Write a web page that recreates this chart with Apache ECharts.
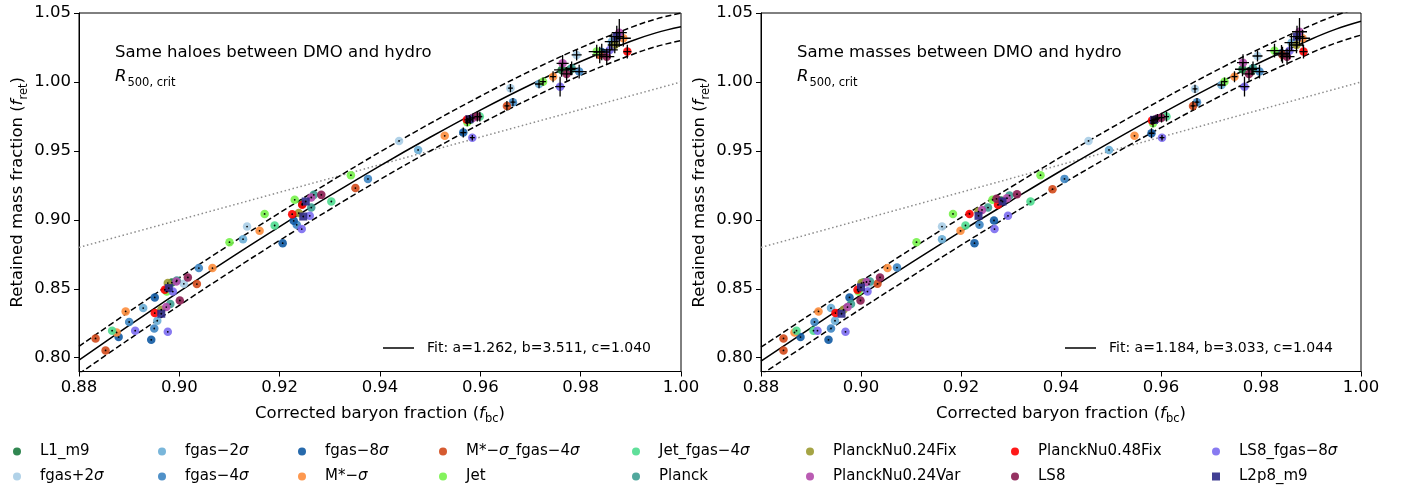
<!DOCTYPE html>
<html><head><meta charset="utf-8">
<script src="https://cdn.jsdelivr.net/npm/echarts@6/dist/echarts.min.js"></script>
<style>html,body{margin:0;padding:0;background:#fff}#c{width:1405px;height:491px}</style>
</head><body><div id="c"></div>
<script>
// ---------- categories ----------
const modelNames = ['L1_m9','fgas+2σ','fgas−2σ','fgas−4σ','fgas−8σ','M*−σ','M*−σ_fgas−4σ','Jet','Jet_fgas−4σ','Planck','PlanckNu0.24Fix','PlanckNu0.24Var','PlanckNu0.48Fix','LS8','LS8_fgas−8σ','L2p8_m9'];
const modelColors = ['#1b7a3e','#a9cde6','#6aaed6','#3d85c2','#0f5aa3','#fd8d3c','#d2491a','#77f24b','#4fdc8f','#3e9e92','#9b9a31','#b24aab','#ff0000','#8a1c51','#7b6cf0','#2d2a88'];

// ---------- tick labels ----------
const xTicks = [0.88, 0.90, 0.92, 0.94, 0.96, 0.98, 1.00];
const yTicks = [0.80, 0.85, 0.90, 0.95, 1.00, 1.05];

// ---------- fit curves ----------
const fitX      = [0.88,0.89,0.90,0.91,0.92,0.93,0.94,0.95,0.96,0.97,0.98,0.99,0.995,1.00];
const fitLeft   = [0.7983,0.8234,0.8480,0.8719,0.8951,0.9175,0.9392,0.9599,0.9796,0.9980,1.0148,1.0295,1.0356,1.0400];
const upperLeft = [0.8083,0.8334,0.8580,0.8819,0.9051,0.9275,0.9492,0.9699,0.9896,1.0080,1.0248,1.0395,1.0456,1.0500];
const lowerLeft = [0.7883,0.8134,0.8380,0.8619,0.8851,0.9075,0.9292,0.9499,0.9696,0.9880,1.0048,1.0195,1.0256,1.0300];
const fitRight   = [0.7976,0.8217,0.8455,0.8687,0.8916,0.9138,0.9356,0.9566,0.9769,0.9963,1.0145,1.0310,1.0383,1.0440];
const upperRight = [0.8076,0.8317,0.8555,0.8787,0.9016,0.9238,0.9456,0.9666,0.9869,1.0063,1.0245,1.0410,1.0483,1.0540];
const lowerRight = [0.7876,0.8117,0.8355,0.8587,0.8816,0.9038,0.9256,0.9466,0.9669,0.9863,1.0045,1.0210,1.0283,1.0340];
const identityX = [0.88, 1.00];
const identityY = [0.88, 1.00];
const fitLabelLeft = 'Fit: a=1.262, b=3.511, c=1.040';
const fitLabelRight = 'Fit: a=1.184, b=3.033, c=1.044';

// ---------- points: [x, y, xerr, yerr] — left panel (same haloes) ----------
const L_L1_m9 = [[0.8985,0.8545,0,0],[0.9245,0.9115,0,0],[0.9580,0.9725,0.0006,0.003],[0.9762,1.0087,0.0015,0.005]];
const L_fgasP2 = [[0.9009,0.8536,0,0],[0.9135,0.8951,0,0],[0.9438,0.9572,0,0],[0.9660,0.9955,0.0005,0.003],[0.9792,1.0196,0.001,0.004]];
const L_fgasM2 = [[0.8928,0.8360,0,0],[0.8956,0.8268,0,0],[0.9127,0.8860,0,0],[0.9476,0.9507,0,0],[0.9717,0.9985,0.0008,0.003],[0.9862,1.0292,0.0014,0.006]];
const L_fgasM4 = [[0.8900,0.8259,0,0],[0.8950,0.8212,0,0],[0.9039,0.8650,0,0],[0.9234,0.8964,0,0],[0.9376,0.9297,0,0],[0.9665,0.9853,0.0005,0.003],[0.9797,1.0075,0.0015,0.005]];
const L_fgasM8 = [[0.8879,0.8150,0,0],[0.8944,0.8130,0,0],[0.8951,0.8437,0,0],[0.9206,0.8831,0,0],[0.9228,0.8993,0,0],[0.9566,0.9633,0.0006,0.0036],[0.9842,1.0217,0.0016,0.006]];
const L_MstarM = [[0.8875,0.8183,0,0],[0.8893,0.8336,0,0],[0.9066,0.8650,0,0],[0.9160,0.8920,0,0],[0.9529,0.9609,0,0],[0.9745,1.0038,0.0006,0.004],[0.9885,1.0317,0.0015,0.006]];
const L_MstarFgas = [[0.8833,0.8140,0,0],[0.8853,0.8053,0,0],[0.9035,0.8534,0,0],[0.9351,0.9230,0,0],[0.9653,0.9826,0.0005,0.0035],[0.9838,1.0196,0.0015,0.006]];
const L_Jet = [[0.8975,0.8480,0,0],[0.9100,0.8838,0,0],[0.9170,0.9043,0,0],[0.9230,0.9145,0,0],[0.9342,0.9324,0,0],[0.9574,0.9708,0.0005,0.003],[0.9725,1.0002,0.0006,0.003],[0.9832,1.0220,0.0016,0.005]];
const L_JetFgas = [[0.8866,0.8196,0,0],[0.9190,0.8959,0,0],[0.9303,0.9133,0,0],[0.9599,0.9749,0.0005,0.0035],[0.9780,1.0090,0.001,0.004]];
const L_Planck = [[0.8982,0.8389,0,0],[0.8995,0.8560,0,0],[0.9263,0.9089,0,0],[0.9268,0.9181,0,0],[0.9782,1.0099,0.0012,0.005]];
const L_Nu24Fix = [[0.8964,0.8348,0,0],[0.8977,0.8541,0,0],[0.9238,0.9049,0,0],[0.9868,1.0268,0.0014,0.006]];
const L_Nu24Var = [[0.8974,0.8367,0,0],[0.8994,0.8553,0,0],[0.9263,0.9162,0,0],[0.9585,0.9739,0.0005,0.003],[0.9764,1.0135,0.0012,0.006],[0.9877,1.0357,0.0015,0.01]];
const L_Nu48Fix = [[0.8951,0.8324,0,0],[0.8971,0.8493,0,0],[0.9225,0.9041,0,0],[0.9245,0.9109,0,0],[0.9573,0.9725,0.0005,0.003],[0.9893,1.0220,0.0008,0.005]];
const L_LS8 = [[0.9001,0.8415,0,0],[0.9017,0.8582,0,0],[0.9283,0.9181,0,0],[0.9594,0.9749,0.0006,0.0036],[0.9772,1.0058,0.0012,0.005],[0.9852,1.0183,0.0015,0.006]];
const L_LS8Fgas = [[0.8912,0.8196,0,0],[0.8977,0.8188,0,0],[0.8987,0.8480,0,0],[0.9244,0.8933,0,0],[0.9260,0.9029,0,0],[0.9584,0.9596,0.0005,0.002],[0.9759,0.9966,0.001,0.0072],[0.9858,1.0232,0.0016,0.006]];
const L_L2p8 = [[0.8964,0.8319,0,0],[0.8979,0.8505,0,0],[0.9247,0.9024,0,0],[0.9252,0.9133,0,0],[0.9578,0.9730,0.0005,0.003],[0.9872,1.0328,0.0015,0.008]];

// ---------- points: right panel (same masses) ----------
const R_L1_m9 = [[0.9005,0.8545,0,0],[0.9280,0.9140,0,0],[0.9590,0.9730,0.0006,0.003],[0.9763,1.0092,0.0015,0.005]];
const R_fgasP2 = [[0.9016,0.8534,0,0],[0.9162,0.8951,0,0],[0.9455,0.9572,0,0],[0.9668,0.9949,0.0005,0.003],[0.9793,1.0188,0.001,0.004]];
const R_fgasM2 = [[0.8940,0.8360,0,0],[0.8948,0.8268,0,0],[0.9162,0.8860,0,0],[0.9496,0.9507,0,0],[0.9721,0.9978,0.0008,0.003],[0.9861,1.0285,0.0014,0.006]];
const R_fgasM4 = [[0.8907,0.8259,0,0],[0.8940,0.8212,0,0],[0.9072,0.8654,0,0],[0.9237,0.8964,0,0],[0.9407,0.9297,0,0],[0.9672,0.9853,0.0005,0.003],[0.9797,1.0075,0.0015,0.005]];
const R_fgasM8 = [[0.8879,0.8150,0,0],[0.8935,0.8130,0,0],[0.8977,0.8437,0,0],[0.9227,0.8831,0,0],[0.9266,0.8995,0,0],[0.9581,0.9628,0.0006,0.0036],[0.9841,1.0208,0.0016,0.006]];
const R_MstarM = [[0.8867,0.8183,0,0],[0.8915,0.8336,0,0],[0.9053,0.8650,0,0],[0.9199,0.8920,0,0],[0.9547,0.9609,0,0],[0.9747,1.0038,0.0006,0.004],[0.9883,1.0317,0.0015,0.006]];
const R_MstarFgas = [[0.8845,0.8140,0,0],[0.8845,0.8053,0,0],[0.9033,0.8536,0,0],[0.9383,0.9222,0,0],[0.9664,0.9826,0.0005,0.0035],[0.9843,1.0196,0.0015,0.006]];
const R_Jet = [[0.8995,0.8480,0,0],[0.9111,0.8838,0,0],[0.9184,0.9043,0,0],[0.9263,0.9145,0,0],[0.9359,0.9324,0,0],[0.9584,0.9701,0.0005,0.003],[0.9727,1.0002,0.0006,0.003],[0.9827,1.0227,0.0016,0.005]];
const R_JetFgas = [[0.8871,0.8196,0,0],[0.8905,0.8196,0,0],[0.9209,0.8959,0,0],[0.9339,0.9133,0,0],[0.9611,0.9749,0.0005,0.0035],[0.9782,1.0090,0.001,0.004]];
const R_Planck = [[0.8980,0.8389,0,0],[0.9018,0.8553,0,0],[0.9254,0.9089,0,0],[0.9297,0.9176,0,0],[0.9784,1.0099,0.0012,0.005]];
const R_Nu24Fix = [[0.8965,0.8348,0,0],[0.9001,0.8541,0,0],[0.9235,0.9060,0,0],[0.9871,1.0268,0.0014,0.006]];
const R_Nu24Var = [[0.8973,0.8367,0,0],[0.9011,0.8549,0,0],[0.9242,0.9072,0,0],[0.9292,0.9157,0,0],[0.9593,0.9737,0.0005,0.003],[0.9764,1.0140,0.0012,0.006],[0.9877,1.0364,0.0015,0.01]];
const R_Nu48Fix = [[0.8949,0.8324,0,0],[0.8993,0.8493,0,0],[0.9217,0.9043,0,0],[0.9274,0.9109,0,0],[0.9582,0.9720,0.0005,0.003],[0.9885,1.0220,0.0008,0.005]];
const R_LS8 = [[0.8999,0.8415,0,0],[0.9038,0.8582,0,0],[0.9271,0.9152,0,0],[0.9312,0.9186,0,0],[0.9601,0.9741,0.0006,0.0036],[0.9776,1.0058,0.0012,0.005],[0.9852,1.0183,0.0015,0.006]];
const R_LS8Fgas = [[0.8913,0.8196,0,0],[0.8969,0.8188,0,0],[0.9013,0.8480,0,0],[0.9267,0.8933,0,0],[0.9294,0.9029,0,0],[0.9602,0.9596,0.0005,0.002],[0.9767,0.9966,0.001,0.0072],[0.9857,1.0227,0.0016,0.006]];
const R_L2p8 = [[0.8961,0.8319,0,0],[0.9000,0.8510,0,0],[0.9235,0.9029,0,0],[0.9283,0.9133,0,0],[0.9586,0.9725,0.0005,0.003],[0.9872,1.0328,0.0015,0.008]];

const leftSets = [L_L1_m9,L_fgasP2,L_fgasM2,L_fgasM4,L_fgasM8,L_MstarM,L_MstarFgas,L_Jet,L_JetFgas,L_Planck,L_Nu24Fix,L_Nu24Var,L_Nu48Fix,L_LS8,L_LS8Fgas,L_L2p8];
const rightSets = [R_L1_m9,R_fgasP2,R_fgasM2,R_fgasM4,R_fgasM8,R_MstarM,R_MstarFgas,R_Jet,R_JetFgas,R_Planck,R_Nu24Fix,R_Nu24Var,R_Nu48Fix,R_LS8,R_LS8Fgas,R_L2p8];

// ---------- build ----------
const FONT = 'DejaVu Sans';
const chart = echarts.init(document.getElementById('c'), null, {renderer:'canvas'});

const axisRich = {
  i: {fontFamily: FONT, fontStyle: 'italic', fontSize: 16.5, lineHeight: 24, color: '#000'},
  s: {fontFamily: FONT, fontSize: 11.5, lineHeight: 12, padding: [10,0,0,0], verticalAlign: 'bottom', color: '#000'}
};
function xAxisOf(g){
  return {type:'value', gridIndex:g, min:0.88, max:1.00,
    name:'Corrected baryon fraction ({i|f}{s|bc})', nameLocation:'middle', nameGap:26,
    nameTextStyle:{fontFamily:FONT, fontSize:16.5, color:'#000', lineHeight:24, rich:axisRich},
    axisLine:{show:true, onZero:false, lineStyle:{color:'#000', width:1}},
    axisTick:{show:true, length:5, inside:false, customValues:xTicks, lineStyle:{color:'#000', width:1}},
    axisLabel:{customValues:xTicks, margin:8, fontFamily:FONT, fontSize:16.5, color:'#000', formatter:v=>v.toFixed(2)},
    splitLine:{show:false}};
}
function yAxisOf(g){
  return {type:'value', gridIndex:g, min:0.79, max:1.05,
    name:'Retained mass fraction ({i|f}{s|ret})', nameLocation:'middle', nameGap:49,
    nameTextStyle:{fontFamily:FONT, fontSize:16.5, color:'#000', lineHeight:24, rich:axisRich},
    axisLine:{show:true, onZero:false, lineStyle:{color:'#000', width:1}},
    axisTick:{show:true, length:5, inside:false, customValues:yTicks, lineStyle:{color:'#000', width:1}},
    axisLabel:{customValues:yTicks, margin:8, fontFamily:FONT, fontSize:16.5, color:'#000', formatter:v=>v.toFixed(2)},
    splitLine:{show:false}};
}

function lineSeries(g, name, ys, style){
  return {type:'line', name, xAxisIndex:g, yAxisIndex:g, data: fitX.map((x,i)=>[x, ys[i]]),
    symbol:'none', smooth:0.4, silent:true, clip:true, color:'#000',
    lineStyle:Object.assign({color:'#000', width:1.5}, style), z:3};
}
function errSeries(g, rows){
  return {type:'custom', name:'_err'+g, xAxisIndex:g, yAxisIndex:g, data:rows, encode:{x:0,y:1}, z:10, silent:true, clip:true,
    renderItem(params, api){
      const x=api.value(0), y=api.value(1), ex=api.value(2), ey=api.value(3);
      const c=api.coord([x,y]);
      const ch=[];
      const st={stroke:'#000', lineWidth:1.3};
      if(ey>0){const a=api.coord([x,y-ey]), b=api.coord([x,y+ey]); ch.push({type:'line', shape:{x1:a[0],y1:a[1],x2:b[0],y2:b[1]}, style:st});}
      if(ex>0){const a=api.coord([x-ex,y]), b=api.coord([x+ex,y]); ch.push({type:'line', shape:{x1:a[0],y1:a[1],x2:b[0],y2:b[1]}, style:st});}
      ch.push({type:'circle', shape:{cx:c[0],cy:c[1],r:0.9}, style:{fill:'#000'}});
      return {type:'group', children:ch};
    }};
}

const series = [];
[[0, leftSets, fitLeft, upperLeft, lowerLeft, fitLabelLeft], [1, rightSets, fitRight, upperRight, lowerRight, fitLabelRight]].forEach(([g, sets, fit, up, lo, lbl])=>{
  series.push({type:'line', name:'_id'+g, xAxisIndex:g, yAxisIndex:g, data: identityX.map((x,i)=>[x, identityY[i]]), symbol:'none', silent:true,
    lineStyle:{color:'#8c8c8c', width:1.5, type:[1.5,2.6]}, z:2});
  series.push(lineSeries(g, lbl, fit, {}));
  series.push(lineSeries(g, '_up'+g, up, {type:[6,3]}));
  series.push(lineSeries(g, '_lo'+g, lo, {type:[6,3]}));
  sets.forEach((rows, k)=>{
    series.push({type:'scatter', name:modelNames[k], xAxisIndex:g, yAxisIndex:g,
      data: rows.map(r=>[r[0], r[1]]), symbol: k===15 ? 'rect' : 'circle', symbolSize: k===15 ? 8 : 8.5,
      itemStyle:{color:modelColors[k], opacity:0.9}, z:5});
  });
  series.push(errSeries(g, [].concat(...sets)));
});

// bottom legends (column-major, 8 columns x 2 rows)
const legendColX = [17, 162, 302, 443, 636, 810, 1015, 1216];
const legendRowY = [453, 478];
const legends = [];
modelNames.forEach((n, k)=>{
  const col = Math.floor(k/2), row = k%2;
  legends.push({show:true, selectedMode:false, orient:'horizontal',
    left: legendColX[col]-4, top: legendRowY[row]-9, itemWidth:8, itemHeight:8, padding:0,
    data:[{name:n, icon: k===15 ? 'rect' : 'circle'}],
    formatter: s => s.replace(/σ/g, '{i|σ}'),
    textStyle:{fontFamily:FONT, fontSize:15, color:'#000', padding:[0,0,0,14],
      rich:{i:{fontFamily:FONT, fontSize:15, fontStyle:'italic', color:'#000'}}}});
});
// fit legends inside panels
[[383, fitLabelLeft],[1065, fitLabelRight]].forEach(([x, lbl])=>{
  legends.push({show:true, selectedMode:false, left:x, top:341, padding:0, itemWidth:31, itemHeight:1.5,
    data:[{name:lbl, icon:'rect', itemStyle:{color:'#000'}}],
    textStyle:{fontFamily:FONT, fontSize:14, color:'#000', padding:[0,0,0,8]}});
});

const noteRich = {
  i:{fontFamily:FONT, fontStyle:'italic', fontSize:16.5, lineHeight:24, verticalAlign:'middle', fill:'#000'},
  s:{fontFamily:FONT, fontSize:11.5, lineHeight:12, padding:[9,0,0,1], verticalAlign:'bottom', fill:'#000'}
};
const graphics = [];
[[115,'Same haloes between DMO and hydro'],[797,'Same masses between DMO and hydro']].forEach(([x, t])=>{
  graphics.push({type:'text', left:x, top:44, style:{text:t, font:'16.5px "DejaVu Sans"', fill:'#000'}});
  graphics.push({type:'text', left:x, top:68, style:{text:'{i|R}{s|500, crit}', rich:noteRich, fill:'#000'}});
});

chart.setOption({
  animation:false,
  backgroundColor:'#fff',
  grid:[
    {left:79, top:13, width:602, height:358.5, show:true, borderColor:'#000', borderWidth:1, backgroundColor:'transparent'},
    {left:761, top:13, width:600, height:358.5, show:true, borderColor:'#000', borderWidth:1, backgroundColor:'transparent'}
  ],
  xAxis:[xAxisOf(0), xAxisOf(1)],
  yAxis:[yAxisOf(0), yAxisOf(1)],
  legend:legends,
  graphic:graphics,
  series
});
</script>
</body></html>
